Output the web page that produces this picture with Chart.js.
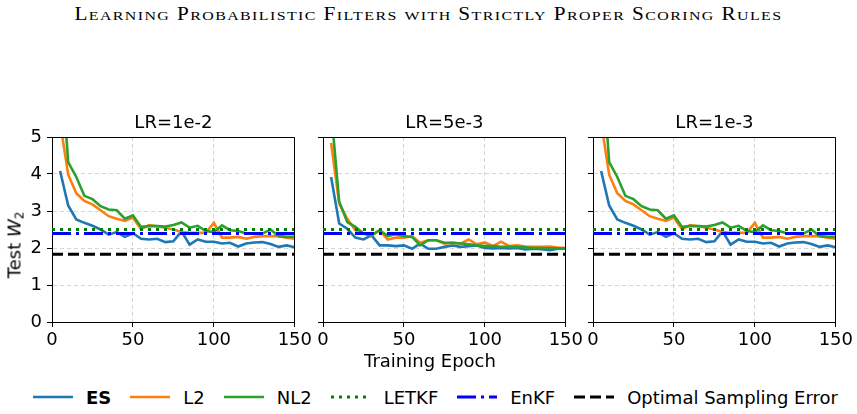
<!DOCTYPE html>
<html>
<head>
<meta charset="utf-8">
<script src="https://cdn.jsdelivr.net/npm/chart.js@4.4.1/dist/chart.umd.min.js"></script>
<style>
    body { margin: 0; background: #fff; width: 857px; height: 414px; position: relative; overflow: hidden; font-family: "DejaVu Sans", sans-serif; color: #000; }
    canvas { position: absolute; }
    #figTitle { position: absolute; left: 0; top: 4px; width: 857px; text-align: center; white-space: nowrap;
        font-family: "Liberation Serif", serif; font-size: 18px; line-height: 20px; }
    #figTitle > span { display: inline-block; letter-spacing: 1.2px; transform-origin: 50% 50%; }
    #figTitle .sc { font-size: 13.5px; }
    #xLabel { position: absolute; left: 230px; width: 400px; top: 351px; text-align: center; font-size: 18px; line-height: 20px; }
    #yLabel { position: absolute; left: 17px; top: 245px; transform: translate(-50%, -50%) rotate(-90deg); white-space: nowrap; font-size: 18px; line-height: 20px; }
    #yLabel sub { font-size: 12px; vertical-align: -3px; }
    #legend { position: absolute; left: 0; width: 871px; top: 386px; height: 22px; display: flex; justify-content: center; align-items: center; font-size: 18px; }
    .item { display: flex; align-items: center; margin: 0 9.5px; }
    .item svg { margin-right: 13px; }
</style>
</head>
<body>
<div id="figTitle"></div>
<canvas id="p1" width="315" height="245" style="left:0px;top:110px"></canvas>
<canvas id="p2" width="276" height="245" style="left:310px;top:110px"></canvas>
<canvas id="p3" width="276" height="245" style="left:580px;top:110px"></canvas>
<div id="xLabel">Training Epoch</div>
<div id="yLabel">Test <i>W</i><sub>2</sub></div>
<div id="legend"></div>
<script>
// --- data ---
const figureTitle = "Learning Probabilistic Filters with Strictly Proper Scoring Rules";
const epochs = [5, 10, 15, 20, 25, 30, 35, 40, 45, 50, 55, 60, 65, 70, 75,
                80, 85, 90, 95, 100, 105, 110, 115, 120, 125, 130, 135, 140, 145, 150];
const xTicks = [0, 50, 100, 150];
const yTicks = [0, 1, 2, 3, 4, 5];
const panelTitles = ["LR=1e-2", "LR=5e-3", "LR=1e-3"];
const seriesNames = ["ES", "L2", "NL2"];
const refNames = ["LETKF", "EnKF", "Optimal Sampling Error"];
const refValues = [2.50, 2.39, 1.83];

const es_1e2 = [4.08, 3.15, 2.77, 2.68, 2.60, 2.50, 2.36, 2.43, 2.30, 2.40, 2.25, 2.23, 2.25, 2.16, 2.18,
                2.45, 2.09, 2.23, 2.17, 2.17, 2.12, 2.14, 2.04, 2.12, 2.15, 2.16, 2.11, 2.03, 2.07, 2.02];
const l2_1e2 = [5.40, 3.98, 3.48, 3.27, 3.18, 3.02, 2.86, 2.79, 2.73, 2.82, 2.51, 2.62, 2.59, 2.55, 2.50,
                2.43, 2.41, 2.41, 2.41, 2.68, 2.28, 2.28, 2.30, 2.25, 2.30, 2.32, 2.32, 2.32, 2.28, 2.25];
const nl2_1e2 = [7.40, 4.32, 3.92, 3.41, 3.32, 3.13, 3.04, 3.02, 2.79, 2.88, 2.57, 2.59, 2.59, 2.58, 2.62,
                 2.69, 2.55, 2.60, 2.46, 2.43, 2.61, 2.48, 2.46, 2.39, 2.39, 2.39, 2.50, 2.32, 2.30, 2.30];

const es_5e3 = [3.92, 2.66, 2.52, 2.28, 2.23, 2.34, 2.07, 2.07, 2.05, 2.07, 1.98, 2.12, 1.98, 1.98, 2.03,
                2.07, 2.03, 2.05, 2.07, 2.00, 1.99, 2.00, 1.99, 2.00, 1.96, 1.98, 1.97, 1.94, 1.98, 1.98];
const l2_5e3 = [4.84, 3.20, 2.79, 2.48, 2.39, 2.34, 2.48, 2.23, 2.28, 2.28, 2.32, 2.14, 2.21, 2.21, 2.12,
                2.14, 2.12, 2.23, 2.10, 2.15, 2.05, 2.17, 2.05, 2.07, 2.04, 2.03, 2.03, 2.04, 2.01, 2.00];
const nl2_5e3 = [5.75, 3.25, 2.70, 2.57, 2.39, 2.34, 2.48, 2.32, 2.37, 2.32, 2.30, 2.07, 2.21, 2.21, 2.14,
                 2.14, 2.12, 2.10, 2.07, 2.05, 2.05, 2.03, 2.03, 2.03, 2.02, 2.00, 2.00, 1.99, 1.99, 1.99];

const es_1e3 = [4.08, 3.15, 2.77, 2.68, 2.60, 2.50, 2.36, 2.43, 2.30, 2.40, 2.25, 2.23, 2.25, 2.16, 2.18,
                2.45, 2.09, 2.23, 2.17, 2.17, 2.12, 2.14, 2.04, 2.12, 2.15, 2.16, 2.11, 2.03, 2.07, 2.02];
const l2_1e3 = [5.40, 3.98, 3.48, 3.27, 3.18, 3.02, 2.86, 2.79, 2.73, 2.82, 2.51, 2.62, 2.59, 2.55, 2.50,
                2.43, 2.41, 2.41, 2.41, 2.68, 2.28, 2.28, 2.30, 2.25, 2.30, 2.32, 2.32, 2.32, 2.28, 2.25];
const nl2_1e3 = [7.40, 4.32, 3.92, 3.41, 3.32, 3.13, 3.04, 3.02, 2.79, 2.88, 2.57, 2.59, 2.59, 2.58, 2.62,
                 2.69, 2.55, 2.60, 2.46, 2.43, 2.61, 2.48, 2.46, 2.39, 2.39, 2.39, 2.50, 2.32, 2.30, 2.30];

// --- styles ---
const seriesColors = ["#1f77b4", "#ff7f0e", "#2ca02c"];
const refColors = ["#008000", "#0000ff", "#000000"];
const refDash = [[3, 5], [19, 5, 3, 5], [11, 5]];
const SERIES_LW = 2.6;
const REF_LW = 3;

Chart.defaults.font.family = "'DejaVu Sans', sans-serif";
Chart.defaults.font.size = 18;
Chart.defaults.color = "#000";

// top + right spines (left/bottom come from the axes borders)
const boxPlugin = {
    id: "box",
    afterDatasetsDraw(chart) {
        const a = chart.chartArea, ctx = chart.ctx;
        const t = Math.round(a.top) + 0.5, r = Math.round(a.right) - 0.5;
        ctx.save();
        ctx.strokeStyle = "#000";
        ctx.lineWidth = 1;
        ctx.beginPath();
        ctx.moveTo(a.left, t);
        ctx.lineTo(r, t);
        ctx.lineTo(r, a.bottom);
        ctx.stroke();
        ctx.restore();
    }
};

function toPoints(vals) {
    return vals.map((v, i) => ({ x: epochs[i], y: v }));
}

function makePanel(id, title, series, showYLabels, yAxisWidth) {
    const datasets = [];
    series.forEach((vals, i) => {
        datasets.push({
            label: seriesNames[i], data: toPoints(vals),
            borderColor: seriesColors[i], borderWidth: SERIES_LW,
            pointRadius: 0, tension: 0, clip: 0, order: 10 - i
        });
    });
    refValues.forEach((v, i) => {
        datasets.push({
            label: refNames[i],
            data: [{ x: xTicks[0], y: v }, { x: xTicks[xTicks.length - 1], y: v }],
            borderColor: refColors[i], borderWidth: REF_LW, borderDash: refDash[i],
            pointRadius: 0, clip: 0, order: 5 - i
        });
    });

    return new Chart(document.getElementById(id), {
        type: "line",
        data: { datasets: datasets },
        options: {
            responsive: false,
            animation: false,
            devicePixelRatio: 1,
            layout: { padding: { left: 0, right: 20, top: 0, bottom: 0 } },
            plugins: {
                legend: { display: false },
                tooltip: { enabled: false },
                title: {
                    display: true, text: title, color: "#000", fullSize: false,
                    font: { size: 18, weight: "normal", lineHeight: 1 },
                    padding: { top: 4, bottom: 5 }
                }
            },
            scales: {
                x: {
                    type: "linear", min: xTicks[0], max: xTicks[xTicks.length - 1],
                    afterBuildTicks: s => { s.ticks = xTicks.map(v => ({ value: v })); },
                    afterFit: s => { s.height = 33; },
                    ticks: { maxRotation: 0, autoSkip: false, padding: 3, color: "#000" },
                    grid: { color: "#d6d6d6", lineWidth: 1, tickColor: "#000", tickLength: 5, tickWidth: 1 },
                    border: { color: "#000", width: 1, dash: [4, 3] }
                },
                y: {
                    min: yTicks[0], max: yTicks[yTicks.length - 1],
                    afterBuildTicks: s => { s.ticks = yTicks.map(v => ({ value: v })); },
                    afterFit: s => { s.width = yAxisWidth; },
                    ticks: { display: showYLabels, padding: 5, color: "#000" },
                    grid: { color: "#d6d6d6", lineWidth: 1, tickColor: "#000", tickLength: 5, tickWidth: 1 },
                    border: { color: "#000", width: 1, dash: [4, 3] }
                }
            }
        },
        plugins: [boxPlugin]
    });
}

makePanel("p1", panelTitles[0], [es_1e2, l2_1e2, nl2_1e2], true, 52);
makePanel("p2", panelTitles[1], [es_5e3, l2_5e3, nl2_5e3], false, 13);
makePanel("p3", panelTitles[2], [es_1e3, l2_1e3, nl2_1e3], false, 13);

// legend
const legend = document.getElementById("legend");
const allNames = seriesNames.concat(refNames);
const allColors = seriesColors.concat(refColors);
const allDash = [[], [], []].concat(refDash);
allNames.forEach((name, i) => {
    const item = document.createElement("div");
    item.className = "item";
    const lw = i < 3 ? SERIES_LW : REF_LW;
    item.innerHTML =
        '<svg width="40" height="8"><line x1="0" y1="4" x2="40" y2="4" stroke="' + allColors[i] +
        '" stroke-width="' + lw + '" stroke-dasharray="' + (allDash[i].length ? allDash[i].join(" ") : "none") +
        '"/></svg><span' + (i === 0 ? ' style="font-weight:bold"' : "") + ">" + name + "</span>";
    legend.appendChild(item);
});

// small-caps title: capitals full size, the rest as smaller capitals, stretched to the figure width
const t = document.getElementById("figTitle");
const probe = document.createElement("span");
figureTitle.split(" ").forEach((word, wi) => {
    if (wi > 0) probe.appendChild(document.createTextNode(" "));
    let rest = word;
    if (word[0] === word[0].toUpperCase()) {
        probe.appendChild(document.createTextNode(word[0]));
        rest = word.slice(1);
    }
    const sc = document.createElement("span");
    sc.className = "sc";
    sc.textContent = rest.toUpperCase();
    probe.appendChild(sc);
});
t.appendChild(probe);
const w = probe.getBoundingClientRect().width;
probe.style.transform = "scaleX(" + (708 / w) + ")";
</script>
</body>
</html>
